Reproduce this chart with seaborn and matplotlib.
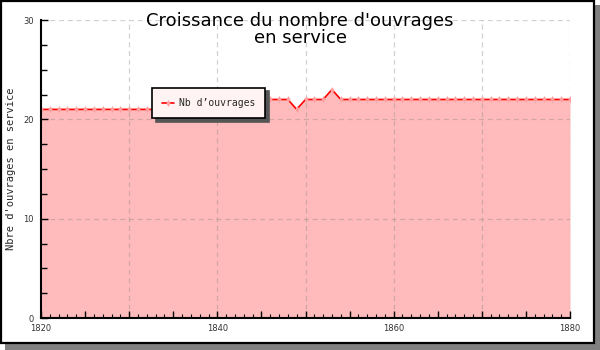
import matplotlib
matplotlib.use("Agg")
import matplotlib.pyplot as plt
import seaborn as sns
import pandas as pd
from matplotlib.patches import Rectangle
from matplotlib.ticker import MultipleLocator, FixedLocator

years = list(range(1820, 1881))
ouvrages = [21, 21, 21, 21, 21, 21, 21, 21, 21, 21, 21, 21, 21, 21,
            22, 22, 22, 22, 22, 22, 22, 22, 22, 22, 22, 22, 22, 22, 22,
            21, 22, 22, 22, 23,
            22, 22, 22, 22, 22, 22, 22, 22, 22, 22, 22, 22, 22, 22, 22,
            22, 22, 22, 22, 22, 22, 22, 22, 22, 22, 22, 22]
title_text = "Croissance du nombre d'ouvrages\nen service"
ylabel_text = "Nbre d'ouvrages en service"
series_label = "Nb d\u2019ouvrages"
x_ticks = [1820, 1840, 1860, 1880]
y_ticks = [0, 10, 20, 30]

df = pd.DataFrame({"annee": years, "n": ouvrages})

sns.set_theme(style="white")
plt.rcParams['font.family'] = ['DejaVu Sans']

fig = plt.figure(figsize=(6, 3.5), dpi=100)
W, H = 600, 350
# shadow + frame
fig.patches.append(Rectangle((5 / W, 0), 595 / W, 345 / H, transform=fig.transFigure,
                             facecolor="#808080", edgecolor="none", zorder=-10))
fig.patches.append(Rectangle((1 / W, 7 / H), 593 / W, 342 / H, transform=fig.transFigure,
                             facecolor="white", edgecolor="black", linewidth=1.6, zorder=-9))

ax = fig.add_axes([41 / W, 32 / H, 529 / W, 298 / H])
ax.set_facecolor("none")
ax.set_axisbelow(False)

ax.fill_between(df["annee"], 0, df["n"], color="#ffbbbb", linewidth=0, zorder=1)
sns.lineplot(data=df, x="annee", y="n", ax=ax, color="red", linewidth=1.2,
             marker="d", markersize=3.5, markerfacecolor="#ffa0a0",
             markeredgecolor="none", label=series_label, zorder=3)

ax.set_xlim(1820, 1880)
ax.set_ylim(0, 30)
ax.xaxis.set_major_locator(FixedLocator(list(range(1820, 1881, 5))))
ax.set_xticklabels([str(v) if v in x_ticks else "" for v in range(1820, 1881, 5)])
ax.xaxis.set_minor_locator(MultipleLocator(1))
ax.set_yticks(y_ticks, [str(v) for v in y_ticks])
ax.yaxis.set_minor_locator(MultipleLocator(2.5))

ax.tick_params(axis="both", which="both", direction="in", labelsize=6,
               labelcolor="#333333", color="black", bottom=True, left=True)
ax.tick_params(axis="x", which="major", length=5, width=1, pad=4)
ax.tick_params(axis="x", which="minor", length=3, width=0.8)
ax.tick_params(axis="y", which="major", length=5, width=1, pad=5)
ax.tick_params(axis="y", which="minor", length=4, width=1)

for v in range(1830, 1881, 10):
    ax.axvline(v, color="gray", alpha=0.35, linestyle=(0, (4, 3)), linewidth=0.9, zorder=2)
for v in [10, 20, 30]:
    ax.axhline(v, color="gray", alpha=0.35, linestyle=(0, (4, 3)), linewidth=0.9, zorder=2)

for s in ["top", "right"]:
    ax.spines[s].set_visible(False)
for s in ["left", "bottom"]:
    ax.spines[s].set_color("black")
    ax.spines[s].set_linewidth(1.5)
    ax.spines[s].set_zorder(4)

ax.set_xlabel("")
ax.set_ylabel(ylabel_text, fontsize=7.5, family="DejaVu Sans Mono")
ax.yaxis.set_label_coords(-25 / 529, 0.5)

fig.text(0.5, 0.966, title_text, ha="center", va="top", fontsize=13,
         linespacing=0.95, color="black")

leg = ax.legend(loc="upper left", bbox_to_anchor=(0.210, 0.772), frameon=True,
                fancybox=False, shadow={"color": "#555555", "alpha": 1, "ox": 2.5, "oy": -2.5},
                prop={"family": "DejaVu Sans Mono", "size": 7},
                handlelength=1.2, handletextpad=0.5, borderpad=1.05, borderaxespad=0,
                framealpha=1)
leg.get_frame().set_facecolor("#fff3f3")
leg.get_frame().set_edgecolor("black")
leg.get_frame().set_linewidth(1.2)
leg.set_zorder(5)

fig.savefig("out.png", dpi=100)
